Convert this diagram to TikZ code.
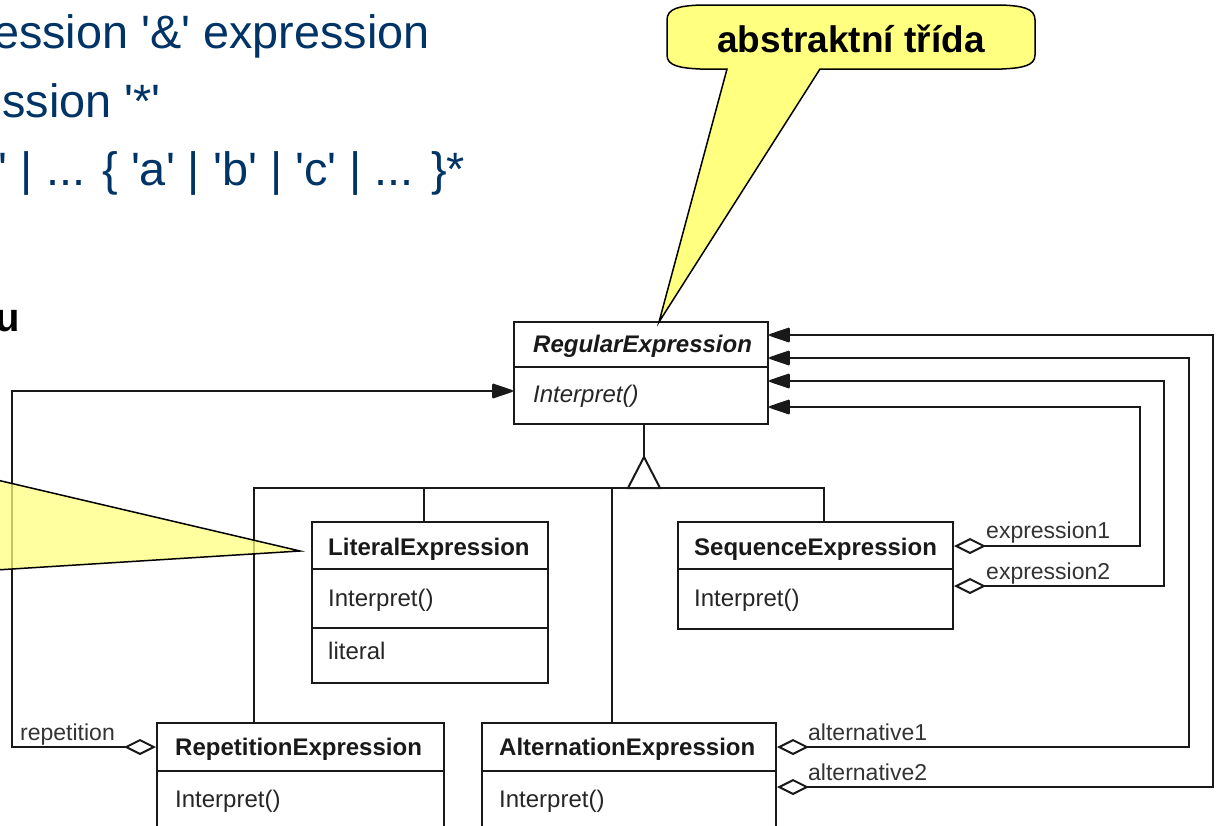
\documentclass[tikz,border=0pt]{standalone}
\usepackage{fontspec}
\setmainfont{Liberation Sans}
\usetikzlibrary{arrows.meta,calc}
\definecolor{navy}{HTML}{003366}
\definecolor{note}{HTML}{FFFF80}
\newcommand{\sq}{\textquotesingle}

\begin{document}
\begin{tikzpicture}[x=1pt,y=-1pt,
  cls/.style={draw=black!90, line width=2pt, fill=white, rectangle, inner sep=0pt, anchor=north west},
  sep/.style={draw=black!90, line width=2pt},
  ttl/.style={anchor=base west, inner sep=0pt, text=black!90, font=\fontsize{24}{28}\selectfont\bfseries},
  op/.style={anchor=base west, inner sep=0pt, text=black!85, font=\fontsize{24}{28}\selectfont},
  role/.style={anchor=base west, inner sep=0pt, text=black!80, font=\fontsize{23}{27}\selectfont},
  wire/.style={draw=black!90, line width=2pt},
  aggnav/.style={wire, {Diamond[open,length=32pt,width=16pt]}-{Triangle[length=23pt,width=15pt,round]}},
  callout/.style={draw=black, line width=1.5pt, fill=note},
  slide/.style={anchor=base east, inner sep=0pt, text=navy, font=\fontsize{46.8}{56}\selectfont},
]
\useasboundingbox (0,0) rectangle (1218,825);
\fill[white] (0,0) rectangle (1218,825);
\begin{scope}
\clip (0,0) rectangle (1218,825);

% slide text above the diagram
\node[slide] (s1) at (430,48) {ession \sq\&\sq{} expression};
\node[slide] (s2) at (161,117) {ssion \sq*\sq};
\node[slide] (s3) at (465,185) {\sq{} | ... \{ \sq a\sq{} | \sq b\sq{} | \sq c\sq{} | ... \}*};
\node[anchor=base east, inner sep=0pt, font=\fontsize{40}{48}\selectfont\bfseries] (s4) at (20,331) {u};

% classes
\node[cls, minimum width=254pt, minimum height=102pt] (re) at (513,321) {};
\draw[sep] (513,367) -- (767,367);
\node[ttl, font=\fontsize{24}{28}\selectfont\bfseries\itshape] (reT) at (533,352) {RegularExpression};
\node[op, font=\fontsize{24}{28}\selectfont\itshape] (reO) at (533,402) {Interpret()};

\node[cls, minimum width=236pt, minimum height=161pt] (lit) at (311,521) {};
\draw[sep] (311,569) -- (547,569);
\draw[sep] (311,628) -- (547,628);
\node[ttl] (litT) at (328,555) {LiteralExpression};
\node[op] (litO) at (328,606) {Interpret()};
\node[op] (litA) at (328,659) {literal};

\node[cls, minimum width=275pt, minimum height=107pt] (seq) at (677,521) {};
\draw[sep] (677,569) -- (952,569);
\node[ttl] (seqT) at (694,555) {SequenceExpression};
\node[op] (seqO) at (694,606) {Interpret()};

\node[cls, minimum width=287pt, minimum height=150pt] (rep) at (156,722) {};
\draw[sep] (156,771) -- (443,771);
\node[ttl] (repT) at (175,755) {RepetitionExpression};
\node[op] (repO) at (175,807) {Interpret()};

\node[cls, minimum width=294pt, minimum height=150pt] (alt) at (481,722) {};
\draw[sep] (481,771) -- (775,771);
\node[ttl] (altT) at (499,755) {AlternationExpression};
\node[op] (altO) at (499,807) {Interpret()};

% inheritance tree
\coordinate (apex) at (644,457);
\coordinate (hb) at (644,488);
\draw[wire] (re.south -| apex) -- (apex);
\draw[wire] ($(rep.north west)+(98,0)$) |- (hb) -| ($(seq.north west)+(147,0)$);
\draw[wire] ($(lit.north west)+(113,0)$) -- ($(lit.north west)+(113,-33)$);
\draw[wire] ($(alt.north west)+(131,0)$) -- ($(alt.north west)+(131,-234)$);
\draw[wire, fill=white] (apex) -- ($(apex)+(-16,31)$) -- ($(apex)+(16,31)$) -- cycle;

% aggregations back to the abstract class
\coordinate (c1) at (1213,335);
\coordinate (c2) at (1189,358);
\coordinate (c3) at (1164,381);
\coordinate (c4) at (1140,407);
\coordinate (l1) at (12,391);
\draw[aggnav] ($(alt.north east)+(0,65)$) -| (c1) -- (re.east |- c1);
\draw[aggnav] ($(alt.north east)+(0,25)$) -| (c2) -- (re.east |- c2);
\draw[aggnav] ($(seq.north east)+(0,65)$) -| (c3) -- (re.east |- c3);
\draw[aggnav] ($(seq.north east)+(0,25)$) -| (c4) -- (re.east |- c4);
\draw[aggnav] ($(rep.north west)+(0,25)$) -| (l1) -- (re.west |- l1);

\node[role] (r1) at (986,538) {expression1};
\node[role] (r2) at (986,579) {expression2};
\node[role] (r3) at (808,740) {alternative1};
\node[role] (r4) at (808,780) {alternative2};
\node[role] (r5) at (20,740) {repetition};

% callouts
\draw[callout, fill opacity=0.75] (-20,476) -- (300,551) -- (-20,571) -- cycle;
\draw[callout] (667,20) .. controls (667,8) and (680,6) .. (700,5) -- (1002,5)
  .. controls (1022,6) and (1035,8) .. (1035,20) -- (1035,55)
  .. controls (1035,66) and (1022,68) .. (1002,69) -- (820,69) -- (659,322)
  -- (727,69) -- (700,69) .. controls (680,68) and (667,66) .. (667,55) -- cycle;
\node[anchor=base, inner sep=0pt, font=\fontsize{37}{44}\selectfont\bfseries] (note1) at (851,52) {abstraktní třída};
\end{scope}
\end{tikzpicture}
\end{document}
